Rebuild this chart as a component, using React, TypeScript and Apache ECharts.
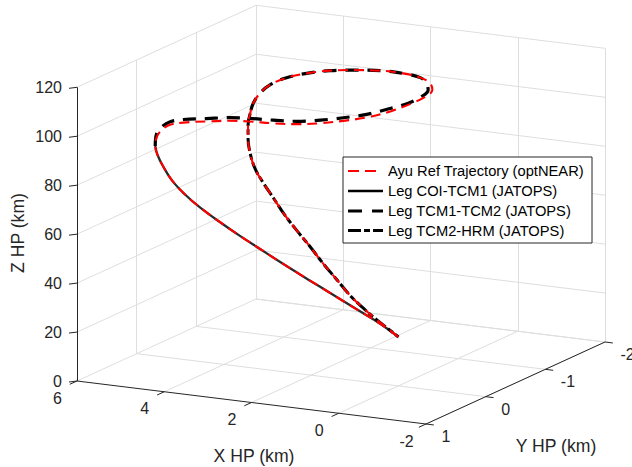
import React, { useEffect, useRef } from "react";
import * as echarts from "echarts";

// ---- axis ticks ----
const X_TICKS = [6, 4, 2, 0, -2];
const Y_TICKS = [1, 0, -1, -2];
const Z_TICKS = [0, 20, 40, 60, 80, 100, 120];

const X_TITLE = "X HP (km)";
const Y_TITLE = "Y HP (km)";
const Z_TITLE = "Z HP (km)";

const LEGEND_NAMES = [
  "Ayu Ref Trajectory (optNEAR)",
  "Leg COI-TCM1 (JATOPS)",
  "Leg TCM1-TCM2 (JATOPS)",
  "Leg TCM2-HRM (JATOPS)",
];

// ---- trajectories, [X, Y, Z] in km ----
const legCoiTcm1: number[][] = [
  [0, 0, 20], [0.35, 0.05, 25.2], [0.73, 0.11, 30.1], [1.1, 0.17, 34.9], [1.48, 0.23, 39.8],
  [1.86, 0.29, 44.7], [2.24, 0.35, 49.7], [2.61, 0.41, 54.8], [2.99, 0.47, 60.0], [3.37, 0.53, 65.5],
  [3.75, 0.59, 71.4], [4.03, 0.63, 76.4], [4.27, 0.67, 82.0], [4.44, 0.7, 87.9], [4.55, 0.71, 92.3],
  [4.59, 0.72, 96.0],
];

const legTcm1Tcm2: number[][] = [
  [4.59, 0.72, 96.0], [4.86, 0.5, 98], [4.84, 0.43, 100], [4.89, 0.25, 100], [4.74, 0.14, 100],
  [4.36, 0.03, 100], [3.97, -0.08, 100], [3.58, -0.13, 100], [3.09, -0.16, 100], [2.63, -0.21, 100],
  [2.24, -0.33, 100], [1.92, -0.48, 100], [1.63, -0.66, 100], [1.44, -0.91, 100], [1.32, -1.13, 100],
  [1.34, -1.36, 100], [1.48, -1.58, 100], [1.78, -1.77, 100], [2.11, -1.91, 100], [2.59, -1.97, 100],
  [3.11, -1.97, 100], [3.62, -1.89, 100], [4.02, -1.79, 100], [4.33, -1.63, 100], [4.52, -1.43, 100],
  [4.54, -1.16, 100], [4.39, -0.89, 100], [4.12, -0.58, 100], [3.78, -0.28, 100],
];

const legTcm2Hrm: number[][] = [
  [3.78, -0.28, 100], [3.83, -0.28, 95.0], [3.83, -0.28, 89.6], [3.79, -0.28, 84.3], [3.66, -0.27, 77.9],
  [3.45, -0.26, 72.4], [3.19, -0.24, 67.0], [2.89, -0.21, 61.1], [2.6, -0.19, 55.9], [2.26, -0.17, 50.1],
  [1.92, -0.14, 44.3], [1.57, -0.12, 38.5], [1.24, -0.09, 33.4], [0.9, -0.07, 29.0], [0.55, -0.04, 25.3],
  [0.26, -0.02, 22.5], [0, 0, 20],
];

// reference (optNEAR) loop section, between the COI-TCM1 end and the TCM2-HRM start
const refLoop: number[][] = [
  [4.74, 0.58, 98], [4.72, 0.51, 100], [4.77, 0.34, 100], [4.62, 0.23, 100], [4.24, 0.11, 100],
  [3.85, 0.01, 100], [3.46, -0.04, 100], [2.97, -0.07, 100], [2.51, -0.13, 100], [2.12, -0.24, 100],
  [1.8, -0.39, 100], [1.51, -0.57, 100], [1.32, -0.83, 100], [1.25, -1.14, 100], [1.27, -1.38, 100],
  [1.41, -1.6, 100], [1.71, -1.78, 100], [2.11, -1.91, 100], [2.59, -1.97, 100], [3.11, -1.97, 100],
  [3.62, -1.89, 100], [4.02, -1.79, 100], [4.33, -1.63, 100], [4.52, -1.43, 100], [4.54, -1.16, 100],
  [4.39, -0.89, 100], [4.12, -0.58, 100],
];
const refTrajectory = [...legCoiTcm1, ...refLoop, ...legTcm2Hrm];

// ---- view (orthographic camera, pixels per unit) ----
const VIEW = { ox: 77, oy: 381, xdx: 43.625, xdy: 5.375, ydx: 59.67, ydy: -27.33, zdy: 2.4475 };
const X_MAX = 6;
const X_MIN = -2;
const Y_MAX = 1;
const Y_MIN = -2;
const Z_MIN = 0;
const Z_MAX = 120;

function proj(p: number[]): number[] {
  const [X, Y, Z] = p;
  const a = X_MAX - X;
  const b = Y_MAX - Y;
  return [VIEW.ox + a * VIEW.xdx + b * VIEW.ydx, VIEW.oy + a * VIEW.xdy + b * VIEW.ydy - Z * VIEW.zdy];
}

const FONT = "'Liberation Sans', Arial, Helvetica, sans-serif";
const AX = "#262626";
const GRIDC = "#dedede";

function buildOption() {
  const gridSegs: number[][][] = [];
  for (const z of Z_TICKS) {
    gridSegs.push([[X_MAX, Y_MAX, z], [X_MAX, Y_MIN, z]]);
    gridSegs.push([[X_MAX, Y_MIN, z], [X_MIN, Y_MIN, z]]);
  }
  for (const y of Y_TICKS) {
    if (y === Y_MAX) continue;
    gridSegs.push([[X_MAX, y, Z_MIN], [X_MAX, y, Z_MAX]]);
    gridSegs.push([[X_MAX, y, Z_MIN], [X_MIN, y, Z_MIN]]);
  }
  for (const x of X_TICKS) {
    if (x === X_MAX) continue;
    gridSegs.push([[x, Y_MIN, Z_MIN], [x, Y_MIN, Z_MAX]]);
    gridSegs.push([[x, Y_MAX, Z_MIN], [x, Y_MIN, Z_MIN]]);
  }

  const axisSegs: number[][][] = [
    [proj([X_MAX, Y_MAX, Z_MIN]), proj([X_MAX, Y_MAX, Z_MAX])],
    [proj([X_MAX, Y_MAX, Z_MIN]), proj([X_MIN, Y_MAX, Z_MIN])],
    [proj([X_MIN, Y_MAX, Z_MIN]), proj([X_MIN, Y_MIN, Z_MIN])],
  ];
  const graphic: any[] = [];
  for (const z of Z_TICKS) {
    const p = proj([X_MAX, Y_MAX, z]);
    axisSegs.push([p, [p[0] - 8, p[1] + 1]]);
    graphic.push({
      type: "text", x: p[0] - 15, y: p[1], z: 50,
      style: { text: String(z), fontSize: 16, fontFamily: FONT, fill: AX, align: "right", verticalAlign: "middle" },
    });
  }
  for (const x of X_TICKS) {
    const p = proj([x, Y_MAX, Z_MIN]);
    axisSegs.push([p, proj([x, Y_MAX + 0.12, Z_MIN])]);
    graphic.push({
      type: "text", x: p[0] - 19.5, y: p[1] + 17, z: 50,
      style: { text: String(x), fontSize: 16, fontFamily: FONT, fill: AX, align: "center", verticalAlign: "middle" },
    });
  }
  for (const y of Y_TICKS) {
    const p = proj([X_MIN, y, Z_MIN]);
    axisSegs.push([p, proj([X_MIN - 0.18, y, Z_MIN])]);
    graphic.push({
      type: "text", x: p[0] + 15.5, y: p[1] + 12.5, z: 50,
      style: { text: String(y), fontSize: 16, fontFamily: FONT, fill: AX, align: "left", verticalAlign: "middle" },
    });
  }
  // axis titles
  graphic.push({
    type: "text", x: 254, y: 456, z: 50,
    style: { text: X_TITLE, fontSize: 17.6, fontFamily: FONT, fill: AX, align: "center", verticalAlign: "middle" },
  });
  graphic.push({
    type: "text", x: 556, y: 446, z: 50,
    style: { text: Y_TITLE, fontSize: 17.6, fontFamily: FONT, fill: AX, align: "center", verticalAlign: "middle" },
  });
  graphic.push({
    type: "text", x: 18, y: 233, rotation: Math.PI / 2, z: 50,
    style: { text: Z_TITLE, fontSize: 17.6, fontFamily: FONT, fill: AX, align: "center", verticalAlign: "middle" },
  });

  // legend
  const lx = 343, ly = 157, lw = 249, lh = 86;
  graphic.push({
    type: "rect", z: 60, shape: { x: lx, y: ly, width: lw, height: lh },
    style: { fill: "#fff", stroke: AX, lineWidth: 1 },
  });
  const rows = [171, 191, 211, 230.5];
  const samples = [
    { stroke: "#ff0000", lineWidth: 2.2, lineDash: [11, 6], x2: 378 },
    { stroke: "#000", lineWidth: 2.6, lineDash: null, x2: 383 },
    { stroke: "#000", lineWidth: 3.2, lineDash: [14, 10], x2: 383 },
    { stroke: "#000", lineWidth: 3.2, lineDash: [13, 3, 6, 3], x2: 383 },
  ];
  LEGEND_NAMES.forEach((name, i) => {
    const s = samples[i];
    graphic.push({
      type: "line", z: 61, shape: { x1: 348, y1: rows[i], x2: s.x2, y2: rows[i] },
      style: { stroke: s.stroke, lineWidth: s.lineWidth, lineDash: s.lineDash, lineCap: "butt" },
    });
    graphic.push({
      type: "text", x: 388, y: rows[i], z: 61,
      style: { text: name, fontSize: 14.7, fontFamily: FONT, fill: "#000", align: "left", verticalAlign: "middle" },
    });
  });

  const lineSeries = (name: string, data: number[][], color: string, width: number, type: any, z: number) => ({
    type: "line", name, data: data.map(proj), symbol: "none", showSymbol: false, smooth: 0.4,
    z, silent: true, lineStyle: { color, width, type, cap: "butt", join: "round" },
  });

  return {
    animation: false,
    backgroundColor: "#ffffff",
    grid: { left: 0, right: 0, top: 0, bottom: 0 },
    xAxis: { type: "value", min: 0, max: 632, show: false },
    yAxis: { type: "value", min: 0, max: 467, inverse: true, show: false },
    series: [
      {
        type: "lines", coordinateSystem: "cartesian2d", polyline: false, silent: true, z: 1,
        lineStyle: { color: GRIDC, width: 1, opacity: 1, curveness: 0 },
        data: gridSegs.map(([a, b]) => ({ coords: [proj(a), proj(b)] })),
      },
      {
        type: "lines", coordinateSystem: "cartesian2d", polyline: false, silent: true, z: 3,
        lineStyle: { color: AX, width: 1, opacity: 1, curveness: 0 },
        data: axisSegs.map(([a, b]) => ({ coords: [a, b] })),
      },
      lineSeries(LEGEND_NAMES[1], legCoiTcm1, "#2a2a2a", 2.3, "solid", 4),
      lineSeries(LEGEND_NAMES[2], legTcm1Tcm2, "#000", 3.2, [13, 9], 4),
      lineSeries(LEGEND_NAMES[3], legTcm2Hrm, "#000", 3.0, [13, 3, 6, 3], 4),
      lineSeries(LEGEND_NAMES[0], refTrajectory, "#ff0000", 2.1, [10, 6], 5),
    ],
    graphic,
  };
}

export default function App() {
  const ref = useRef<HTMLDivElement>(null);
  useEffect(() => {
    const chart = echarts.init(ref.current!, null, { renderer: "svg" });
    chart.setOption(buildOption() as any);
    return () => chart.dispose();
  }, []);
  return (
    <div
      ref={ref}
      style={{ position: "fixed", left: 0, top: 0, width: 632, height: 467, background: "#fff" }}
    />
  );
}
